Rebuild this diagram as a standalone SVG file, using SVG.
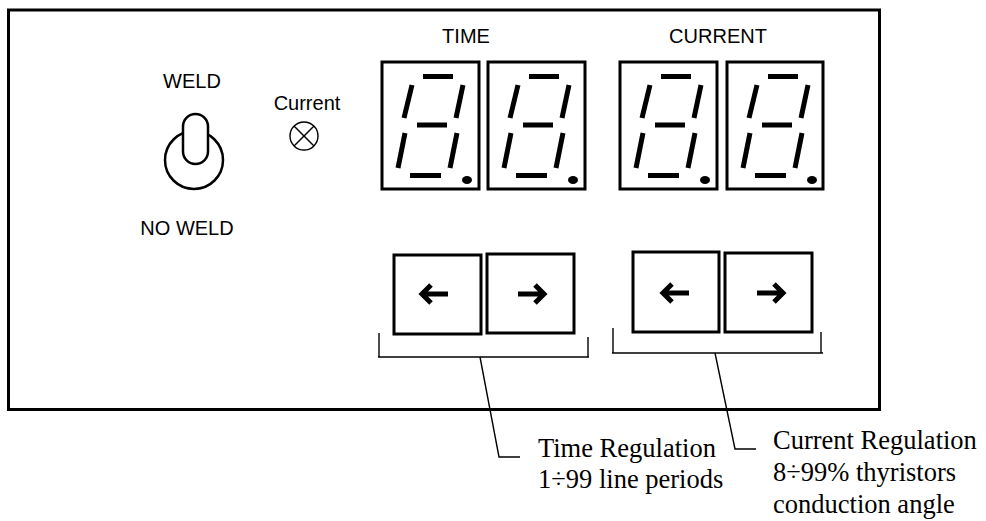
<svg xmlns="http://www.w3.org/2000/svg" xmlns:xlink="http://www.w3.org/1999/xlink" width="986" height="521" viewBox="0 0 986 521">
<style>
.frame{fill:#fff;stroke:#000;stroke-width:3}
.box{fill:#fff;stroke:#000;stroke-width:3}
.seg{stroke:#000;stroke-width:5;fill:none}
.sans{font-family:"Liberation Sans",Arial,sans-serif;font-size:20px;fill:#000}
.serif{font-family:"Liberation Serif","Times New Roman",serif;font-size:26.5px;fill:#000}
.thin{stroke:#000;stroke-width:1.4;fill:none}
.arr{stroke:#000;stroke-width:5;fill:none;stroke-linejoin:miter}
.sw{fill:#fff;stroke:#000;stroke-width:2.5}
</style>
<defs>
<g id="digit">
<line class="seg" x1="41" y1="14.5" x2="71" y2="14.5"/>
<line class="seg" x1="30" y1="23" x2="22" y2="56"/>
<line class="seg" x1="81" y1="23" x2="74" y2="56"/>
<line class="seg" x1="35" y1="63" x2="65" y2="63"/>
<line class="seg" x1="23" y1="71" x2="16" y2="106"/>
<line class="seg" x1="75" y1="71" x2="68" y2="106"/>
<line class="seg" x1="28" y1="113.5" x2="59" y2="113.5"/>
<ellipse cx="85" cy="118" rx="5" ry="4" fill="#000"/>
</g>
</defs>
<rect class="frame" x="8.5" y="10" width="871" height="399.5"/>

<g id="switch">
<text class="sans" x="192" y="88" text-anchor="middle">WELD</text>
<circle class="sw" cx="194" cy="160" r="29"/>
<rect class="sw" x="183" y="114" width="25" height="50" rx="12.5" ry="12.5"/>
<text class="sans" x="187" y="235" text-anchor="middle">NO WELD</text>
</g>

<g id="current-lamp">
<text class="sans" x="307" y="110" text-anchor="middle">Current</text>
<circle cx="304" cy="136" r="14" fill="none" stroke="#000" stroke-width="1.4"/>
<line class="thin" x1="294" y1="126" x2="314" y2="146"/>
<line class="thin" x1="314" y1="126" x2="294" y2="146"/>
</g>

<g id="time-display">
<text class="sans" x="466" y="43" text-anchor="middle">TIME</text>
<rect class="box" x="382" y="62" width="97" height="127"/>
<use xlink:href="#digit" transform="translate(382,62)"/>
<rect class="box" x="488" y="62" width="97" height="127"/>
<use xlink:href="#digit" transform="translate(488,62)"/>
</g>

<g id="current-display">
<text class="sans" x="718" y="43" text-anchor="middle">CURRENT</text>
<rect class="box" x="620" y="62" width="97" height="127"/>
<use xlink:href="#digit" transform="translate(620,62)"/>
<rect class="box" x="727" y="62" width="96" height="127"/>
<use xlink:href="#digit" transform="translate(727,62)"/>
</g>

<g id="time-buttons">
<rect class="box" x="394" y="255" width="87" height="79"/>
<path class="arr" d="M 431 285 L 422 294 L 431 303 M 422 294 L 448 294"/>
<rect class="box" x="487" y="254" width="87" height="79"/>
<path class="arr" d="M 535 285 L 544 294 L 535 303 M 544 294 L 518 294"/>
</g>

<g id="current-buttons">
<rect class="box" x="633" y="252" width="86" height="80"/>
<path class="arr" d="M 672 284 L 663 293 L 672 302 M 663 293 L 689 293"/>
<rect class="box" x="725" y="253" width="87" height="79"/>
<path class="arr" d="M 774 284 L 783 293 L 774 302 M 783 293 L 757 293"/>
</g>

<g id="connectors">
<path class="thin" d="M 379 333 L 379 357 M 378 357 L 589 357 M 588 337 L 588 357"/>
<path class="thin" d="M 613 328 L 613 353 M 612 353 L 823 353 M 821 332 L 821 353"/>
<path class="thin" d="M 480 357 L 499 457 L 520 457"/>
<path class="thin" d="M 715 353 L 735 449 L 756 449"/>
</g>

<g id="time-label">
<text class="serif" x="538" y="457">Time Regulation</text>
<text class="serif" x="538" y="488">1÷99 line periods</text>
</g>
<g id="current-label">
<text class="serif" x="773" y="449">Current Regulation</text>
<text class="serif" x="773" y="481">8÷99% thyristors</text>
<text class="serif" x="773" y="513">conduction angle</text>
</g>
</svg>
